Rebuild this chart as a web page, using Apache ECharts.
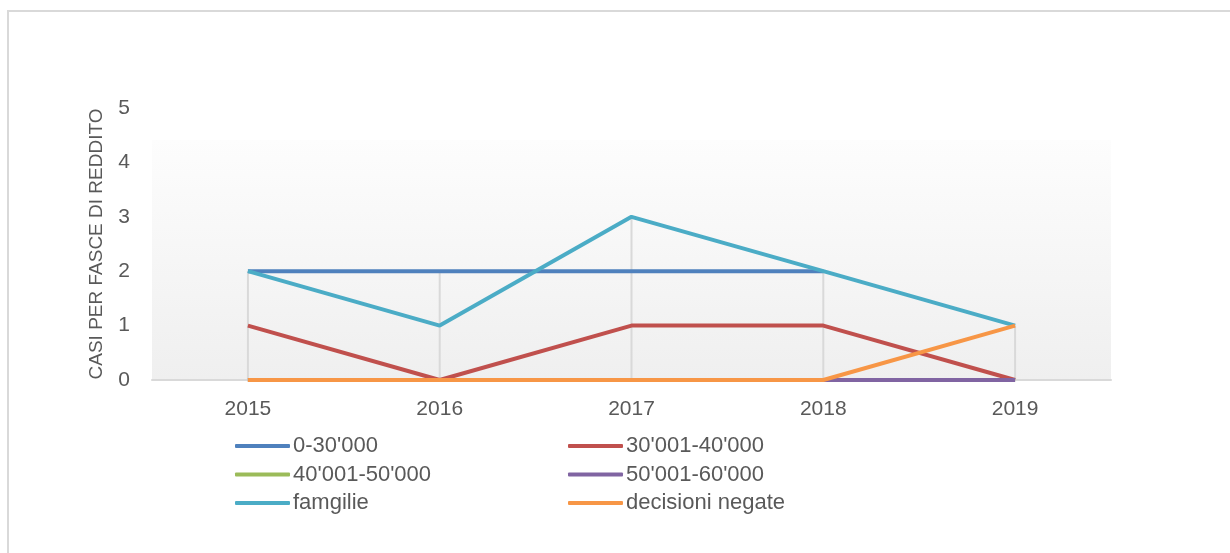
<!DOCTYPE html>
<html>
<head>
<meta charset="utf-8">
<script src="https://cdn.jsdelivr.net/npm/echarts@6/dist/echarts.min.js"></script>
<style>
  html, body { margin: 0; padding: 0; background: #fff; }
  #chart { width: 1230px; height: 553px; }
</style>
</head>
<body>
<div id="chart"></div>
<script>
// dati
const years = ['2015', '2016', '2017', '2018', '2019'];
const fascia0_30 = [2, 2, 2, 2, null];
const fascia30_40 = [1, 0, 1, 1, 0];
const fascia40_50 = [0, 0, 0, 0, 0];
const fascia50_60 = [0, 0, 0, 0, 0];
const famiglie = [2, 1, 3, 2, 1];
const negate = [0, 0, 0, 0, 1];

const seriesNames = ["0-30'000", "30'001-40'000", "40'001-50'000", "50'001-60'000", 'famgilie', 'decisioni negate'];
const seriesData = [fascia0_30, fascia30_40, fascia40_50, fascia50_60, famiglie, negate];
const colors = ['#4F81BD', '#C0504D', '#9BBB59', '#8064A2', '#4BACC6', '#F79646'];

// linee verticali (drop lines) = massimo per anno
const dropMax = years.map((_, i) => Math.max(...seriesData.map(s => (s[i] == null ? 0 : s[i]))));

const font = 'Liberation Sans, Arial, sans-serif';
const chart = echarts.init(document.getElementById('chart'));

const lineSeries = seriesNames.map((name, i) => ({
  name: name,
  type: 'line',
  data: seriesData[i],
  symbol: 'none',
  color: colors[i],
  lineStyle: { width: 4, color: colors[i] },
  z: 3 + i
}));

const legendCommon = {
  orient: 'vertical',
  top: 430,
  icon: 'roundRect',
  itemWidth: 55,
  itemHeight: 4,
  itemGap: 6.5,
  textStyle: { color: '#595959', fontSize: 22, lineHeight: 22, fontFamily: font, padding: [0, 0, 0, -2] }
};

const option = {
  animation: false,
  backgroundColor: '#fff',
  graphic: [{
    type: 'polyline',
    shape: { points: [[8, 553], [8, 11], [1230, 11]] },
    style: { stroke: '#d9d9d9', lineWidth: 2, fill: null }
  }],
  legend: [
    Object.assign({ left: 230, data: [seriesNames[0], seriesNames[2], seriesNames[4]] }, legendCommon),
    Object.assign({ left: 563, data: [seriesNames[1], seriesNames[3], seriesNames[5]] }, legendCommon)
  ],
  grid: {
    left: 152,
    right: 119,
    top: 108,
    bottom: 173,
    show: true,
    borderWidth: 0,
    backgroundColor: {
      type: 'linear', x: 0, y: 0, x2: 0, y2: 1,
      colorStops: [
        { offset: 0, color: '#ffffff' },
        { offset: 0.117, color: '#ffffff' },
        { offset: 0.118, color: '#fdfdfd' },
        { offset: 1, color: '#efefef' }
      ]
    }
  },
  xAxis: {
    type: 'category',
    data: years,
    boundaryGap: true,
    axisLine: { lineStyle: { color: '#d9d9d9', width: 2 } },
    axisTick: { show: false },
    axisLabel: { color: '#595959', fontSize: 21, fontFamily: font, margin: 19 }
  },
  yAxis: {
    type: 'value',
    min: 0,
    max: 5,
    interval: 1,
    name: 'CASI PER FASCE DI REDDITO',
    nameLocation: 'middle',
    nameGap: 46,
    nameTextStyle: { color: '#595959', fontSize: 19, fontFamily: font },
    axisLine: { show: false },
    axisTick: { show: false },
    splitLine: { show: false },
    axisLabel: { color: '#595959', fontSize: 21, fontFamily: font, margin: 22 }
  },
  series: [{
    name: 'drop',
    type: 'bar',
    data: dropMax,
    barWidth: 2,
    itemStyle: { color: '#d9d9d9' },
    z: 1,
    silent: true
  }].concat(lineSeries)
};

chart.setOption(option);
</script>
</body>
</html>
